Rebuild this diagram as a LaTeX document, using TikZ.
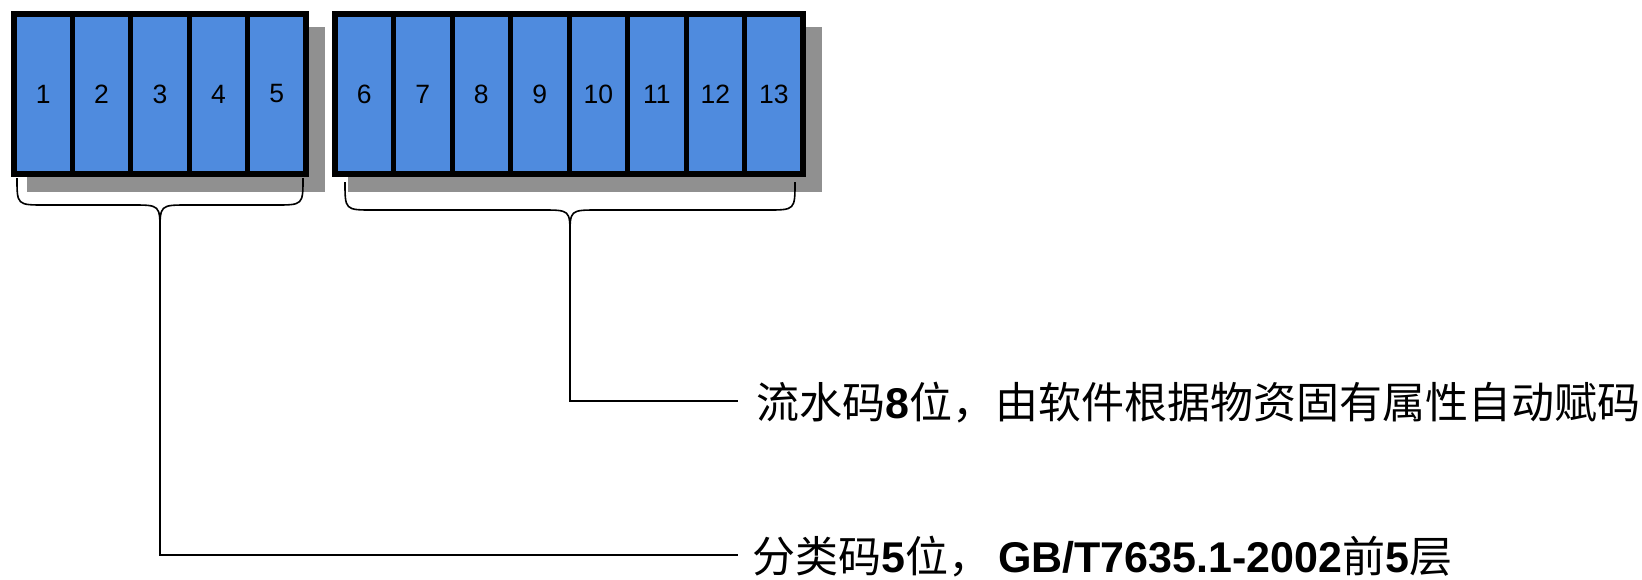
\documentclass[tikz,border=0pt]{standalone}
\usepackage{fontspec}
\setmainfont{Liberation Sans}
\newfontfamily\cjk{Noto Sans CJK SC}
\definecolor{cellblue}{RGB}{79,139,222}
\definecolor{shadowgray}{RGB}{144,144,144}
\begin{document}
\begin{tikzpicture}[x=1pt,y=-1pt,
  cell/.style={draw=black,line width=5pt,fill=cellblue,minimum width=58.5pt,minimum height=160pt,inner sep=0pt,font=\fontsize{26.5}{26.5}\selectfont},
  frame/.style={draw=black,line width=6pt},
  shadowbox/.style={fill=shadowgray},
  bracepath/.style={draw=black,line width=1.6pt},
  leader/.style={draw=black,line width=1.6pt},
  label/.style={anchor=west,inner sep=0pt,font=\fontsize{43}{43}\selectfont}]
\useasboundingbox (0,0) rectangle (1642,579);
% shadows
\fill[shadowbox] (27,27) rectangle (325,192);
\fill[shadowbox] (348,27) rectangle (822,192);
% first group
\foreach \i in {1,...,5}{
  \node[cell] (c\i) at ({14+58.4*(\i-0.5)},94) {\i};
}
\draw[frame] (14,14) rectangle (306,174);
% second group
\foreach \i in {6,...,13}{
  \node[cell] (c\i) at ({335+58.5*(\i-5.5)},94) {\i};
}
\draw[frame] (335,14) rectangle (803,174);
% braces
\coordinate (tip1) at (160,232);
\coordinate (tip2) at (570,236);
\draw[bracepath] (17,178) .. controls (17,205) .. (45,205) -- (132,205) .. controls (160,205) .. (tip1)
  .. controls (160,205) .. (188,205) -- (275,205) .. controls (303,205) .. (303,178);
\draw[bracepath] (345,182) .. controls (345,210) .. (373,210) -- (542,210) .. controls (570,210) .. (tip2)
  .. controls (570,210) .. (598,210) -- (767,210) .. controls (795,210) .. (795,182);
% labels
\node[label] (t1) at (756,403) {{\cjk 流水码}\textbf{8}{\cjk 位，由软件根据物资固有属性自动赋码}};
\node[label] (t2) at (752,557) {{\cjk 分类码}\textbf{5}{\cjk 位，}\hspace{7pt}\textbf{GB/T7635.1-2002}{\cjk 前}\textbf{5}{\cjk 层}};
\coordinate (e1) at (738,401);
\coordinate (e2) at (738,555);
\draw[leader] (tip2) |- (e1);
\draw[leader] (tip1) |- (e2);
\end{tikzpicture}
\end{document}
